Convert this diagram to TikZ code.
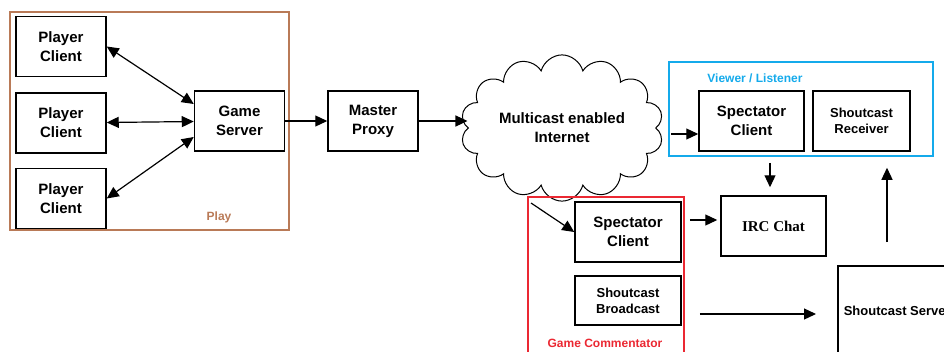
\documentclass[tikz,border=0pt]{standalone}
\usepackage{fontspec}
\setmainfont{Liberation Sans}
\newfontfamily\timesfont{Liberation Serif}
\usetikzlibrary{arrows.meta,positioning,shapes.symbols}
\definecolor{playbrown}{RGB}{185,122,87}
\definecolor{viewblue}{RGB}{20,170,235}
\definecolor{commred}{RGB}{235,40,50}
\tikzset{
  box/.style={
    draw, line width=1.5pt, align=center, inner sep=2pt,
    font=\fontsize{15}{19}\selectfont\bfseries,
    minimum width=90pt, minimum height=60pt
  },
  smallbox/.style={box, font=\fontsize{13}{16}\selectfont\bfseries},
  arr/.style={-{Triangle[length=12pt,width=11pt]}, line width=1.2pt},
  darr/.style={arr, {Triangle[length=12pt,width=11pt]}-{Triangle[length=12pt,width=11pt]}},
  grp/.style={line width=2pt},
  tag/.style={font=\fontsize{12}{14}\selectfont\bfseries, inner sep=0pt}
}

\begin{document}
\begin{tikzpicture}[x=1pt,y=-1pt]
  \useasboundingbox (0,0) rectangle (944,351);

  % --- play -------------------------------------------------------------
  \draw[grp, playbrown] (10,12) rectangle (289,230);
  \node[tag, text=playbrown] (play) at (219,217) {Play};
  \node[box] (pc1) at (61,46.5) {Player\\Client};
  \node[box, below=15pt of pc1] (pc2) {Player\\Client};
  \node[box, below=14pt of pc2] (pc3) {Player\\Client};
  \node[box] (gs) at (239.5,121) {Game\\Server};

  \draw[darr] (pc1.east) -- ([yshift=17pt]gs.west);
  \draw[darr] (pc2) -- (gs);
  \draw[darr] (pc3.east) -- ([yshift=-16pt]gs.west);

  % --- proxy and internet ---------------------------------------------
  \node[box] (mp) at (373,121) {Master\\Proxy};
  \node[cloud, draw, line width=1pt, cloud puffs=14, aspect=1.6,
        minimum width=200pt, minimum height=132pt,
        font=\fontsize{15}{19}\selectfont\bfseries, align=center]
        (net) at (562,128) {Multicast enabled\\Internet};

  \draw[arr] (gs) -- (mp);
  \draw[arr] (mp.east) -- (mp.east -| net.west);

  % --- viewer / listener ----------------------------------------------
  \draw[grp, viewblue] (669,62) rectangle (933,156);
  \node[tag, text=viewblue] (view) at (755,78) {Viewer / Listener};
  \node[box, minimum width=105pt] (vsc) at (751.5,121) {Spectator\\Client};
  \node[smallbox, minimum width=97pt] (rcv) at (861.5,121) {Shoutcast\\Receiver};

  \coordinate (vin) at (671,134);
  \draw[arr] (vin) -- (vin -| vsc.west);

  % --- game commentator -----------------------------------------------
  \draw[grp, commred] (528,197) rectangle (684,365);
  \node[tag, text=commred] (comm) at (605,343) {Game Commentator};
  \node[box, minimum width=106pt] (csc) at (628,232) {Spectator\\Client};
  \node[smallbox, minimum width=106pt, minimum height=49pt] (bc) at (628,300.5) {Shoutcast\\Broadcast};

  \coordinate (cin) at (531,203);
  \draw[arr] (cin) -- (csc.west);

  % --- chat and server ------------------------------------------------
  \node[box, minimum width=105pt, font=\timesfont\fontsize{15}{18}\selectfont\bfseries] (irc) at (773.5,226) {IRC Chat};
  \node[smallbox, minimum width=119pt, minimum height=90pt, anchor=north west] (srv) at (837,265) {Shoutcast Server};

  \draw[arr, shorten <=11pt, shorten >=8pt] ([xshift=-3.5pt]irc.north |- vsc.south) -- ([xshift=-3.5pt]irc.north);
  \draw[arr, shorten <=8pt, shorten >=3pt] ([yshift=12pt]csc.east) -- ([yshift=12pt]csc.east -| irc.west);
  \draw[arr, shorten <=18pt, shorten >=21pt] ([yshift=-13.5pt]bc.east) -- ([yshift=-13.5pt]bc.east -| srv.west);
  \draw[arr, shorten <=23pt, shorten >=16pt] ([xshift=25.5pt]rcv.south |- srv.north) -- ([xshift=25.5pt]rcv.south);
\end{tikzpicture}
\end{document}
